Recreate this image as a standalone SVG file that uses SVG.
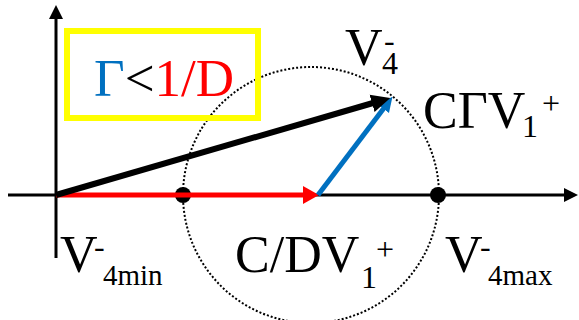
<svg xmlns="http://www.w3.org/2000/svg" width="579" height="320" viewBox="0 0 579 320">
<style>
text{font-family:"Liberation Serif","Times New Roman",serif;fill:#000;font-size:52px}
.sub{font-size:32px}
.sub2{font-size:29px}
.axis{stroke:#000;stroke-width:3;fill:none}
</style>
<defs>
<marker id="ah-black" markerUnits="userSpaceOnUse" viewBox="0 0 20 20" markerWidth="20" markerHeight="20" refX="1" refY="10" orient="auto"><path d="M0,1 L19,10 L0,19 Z" fill="#000"/></marker>
<marker id="ah-red" markerUnits="userSpaceOnUse" viewBox="0 0 20 20" markerWidth="20" markerHeight="20" refX="1" refY="10" orient="auto"><path d="M0,1 L16,10 L0,19 Z" fill="#FF0000"/></marker>
<marker id="ah-blue" markerUnits="userSpaceOnUse" viewBox="0 0 20 20" markerWidth="20" markerHeight="20" refX="1" refY="10" orient="auto"><path d="M0,3 L15,10 L0,17 Z" fill="#0070C0"/></marker>
<marker id="ah-axis" markerUnits="userSpaceOnUse" viewBox="0 0 20 20" markerWidth="20" markerHeight="20" refX="1" refY="10" orient="auto"><path d="M0,3 L14,10 L0,17 Z" fill="#000"/></marker>
</defs>
<g id="axes">
<line class="axis" x1="56" y1="258" x2="56" y2="18" marker-end="url(#ah-axis)"/>
<line class="axis" x1="8" y1="195" x2="565" y2="195" marker-end="url(#ah-axis)"/>
</g>
<g id="circle">
<circle cx="311" cy="195" r="128" fill="none" stroke="#000" stroke-width="2" stroke-dasharray="2 2"/>
<circle cx="183" cy="195" r="8" fill="#000"/>
<circle cx="438" cy="195" r="8" fill="#000"/>
</g>
<g id="box">
<rect x="67" y="31" width="191" height="87" fill="none" stroke="#FFFF00" stroke-width="6"/>
<text x="94" y="96" style="font-size:53px"><tspan fill="#0070C0">Γ</tspan><tspan>&lt;</tspan><tspan fill="#FF0000">1/D</tspan></text>
</g>
<g id="connectors">
<line x1="56" y1="195" x2="304" y2="195" stroke="#FF0000" stroke-width="5" marker-end="url(#ah-red)"/>
<line x1="318" y1="195" x2="384" y2="108" stroke="#0070C0" stroke-width="5" marker-end="url(#ah-blue)"/>
<line x1="56" y1="195" x2="373" y2="103" stroke="#000" stroke-width="6" marker-end="url(#ah-black)"/>
</g>
<g id="label-v4">
<text x="345" y="65">V<tspan class="sub" x="384" y="51">-</tspan><tspan class="sub" x="382" y="74">4</tspan></text>
</g>
<g id="label-cgv1">
<text x="423" y="128">CΓV<tspan class="sub" x="522" y="137">1</tspan><tspan class="sub" x="542" y="114">+</tspan></text>
</g>
<g id="label-v4min">
<text x="60" y="272">V<tspan class="sub" x="94" y="257">-</tspan><tspan class="sub2" x="103" y="285">4min</tspan></text>
</g>
<g id="label-cdv1">
<text x="235" y="272">C/DV<tspan class="sub" x="361" y="288">1</tspan><tspan class="sub" x="376" y="260">+</tspan></text>
</g>
<g id="label-v4max">
<text x="445" y="272">V<tspan class="sub" x="480" y="257">-</tspan><tspan class="sub2" x="488" y="285">4max</tspan></text>
</g>
</svg>
